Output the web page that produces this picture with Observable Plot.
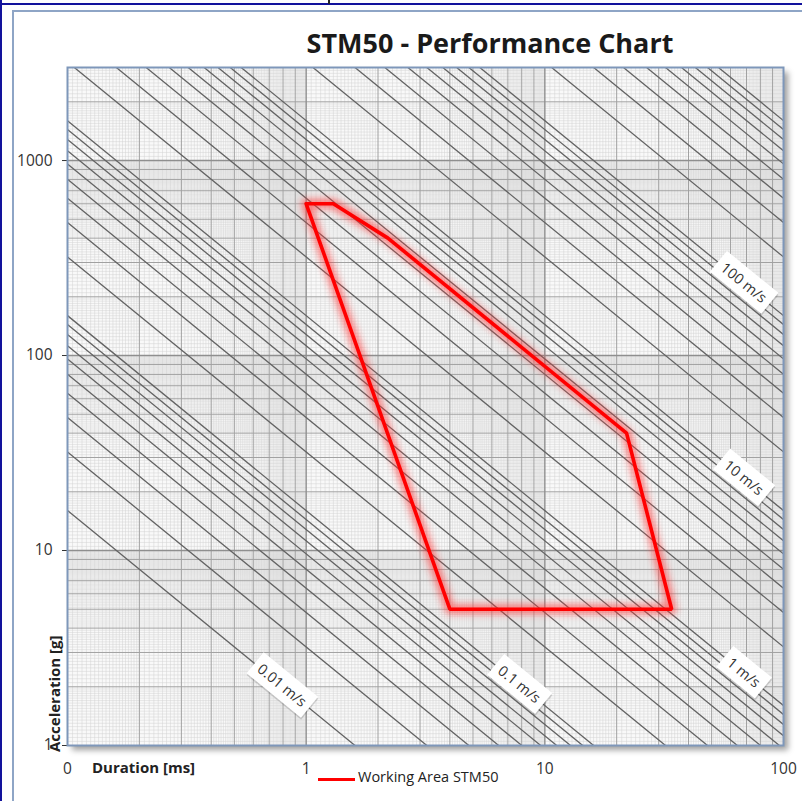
<!DOCTYPE html>
<html>
<head>
<meta charset="utf-8">
<script src="https://cdn.jsdelivr.net/npm/d3@7"></script>
<script src="https://cdn.jsdelivr.net/npm/@observablehq/plot@0.6"></script>
<style>
  html, body { margin: 0; padding: 0; background: #fff; }
  #wrap { position: relative; width: 802px; height: 801px; overflow: hidden; font-family: "Open Sans", sans-serif; color: #222; }
  .abs { position: absolute; }
  #navyTop { left: 0; top: 3px; width: 802px; height: 2px; background: #12129c; }
  #navyLeft { left: 0; top: 0; width: 2px; height: 801px; background: #12129c; }
  #tickTop { left: 328px; top: 0; width: 2px; height: 4px; background: #222; }
  #chartBorder { left: 12px; top: 10px; width: 820px; height: 820px; border-left: 2px solid #8ea5c6; border-top: 2px solid #8ea5c6; box-sizing: border-box; }
  #shadow { left: 67px; top: 67px; width: 716px; height: 678px; box-shadow: 5px 5px 6px rgba(0,0,0,0.38); background: #eee; }
  #chart { left: 0; top: 0; }
  #title { left: 290px; width: 400px; top: 29px; text-align: center; font-weight: 700; font-size: 27px; line-height: 27px; white-space: nowrap; color: #1a1a1a; }
  #xTitle { left: 92px; top: 760px; font-weight: 700; font-size: 15px; line-height: 15px; white-space: nowrap; color: #222; }
  #yTitle { left: 47px; top: 752px; font-weight: 700; font-size: 15px; line-height: 15px; white-space: nowrap; color: #222; transform-origin: 0 0; transform: rotate(-90deg); }
  #legendSwatch { left: 318px; top: 778px; width: 37px; height: 3px; background: #ff0000; }
  #legendText { left: 358px; top: 770px; font-size: 14.5px; line-height: 14px; white-space: nowrap; color: #222; }
</style>
</head>
<body>
<div id="wrap">
  <div id="chartBorder" class="abs"></div>
  <div id="navyTop" class="abs"></div>
  <div id="navyLeft" class="abs"></div>
  <div id="tickTop" class="abs"></div>
  <div id="shadow" class="abs"></div>
  <div id="chart" class="abs"></div>
  <div id="title" class="abs"></div>
  <div id="xTitle" class="abs"></div>
  <div id="yTitle" class="abs"></div>
  <div id="legendSwatch" class="abs"></div>
  <div id="legendText" class="abs"></div>
</div>
<script>
// ---------------- DATA ----------------
const chartTitle = "STM50 - Performance Chart";
const xTitle = "Duration [ms]";
const yTitle = "Acceleration [g]";
const legendLabel = "Working Area STM50";

const xDomain = [0.1, 100];
const yDomain = [1, 3000];
const xTickValues = [0.1, 1, 10, 100];
const xTickLabels = ["0", "1", "10", "100"];
const yTickValues = [1, 10, 100, 1000];
const yTickLabels = ["1", "10", "100", "1000"];

// constant-velocity-change lines (m/s)
const velocities = [
  0.01, 0.02, 0.03, 0.04, 0.05, 0.06, 0.07, 0.08, 0.09,
  0.1, 0.2, 0.3, 0.4, 0.5, 0.6, 0.7, 0.8, 0.9,
  1, 2, 3, 4, 5, 6, 7, 8, 9,
  10, 20, 30, 40, 50, 60, 70, 80, 90,
  100, 200, 300, 400, 500, 600, 700, 800, 900,
  1000
];

// labelled velocity lines and the duration (ms) where each label sits
const labelVelocities = [0.01, 0.1, 1, 10, 100];
const labelTexts = ["0.01 m/s", "0.1 m/s", "1 m/s", "10 m/s", "100 m/s"];
const labelDurations = [0.79, 7.8, 68, 68, 68];

// working area polygon (duration ms, acceleration g)
const areaDuration = [1, 1.3, 2.2, 22, 34, 4, 1];
const areaAccel = [600, 600, 400, 40, 5, 5, 600];

// ---------------- DERIVED ----------------
// half-sine pulse: dv = 2/pi * a * g * T  ->  a[g] = pi * dv / (2 * g * T[s])
const G = 9.80665;
const accelFor = (v, T) => Math.PI * v * 1000 / (2 * G * T);

const velRows = velocities.flatMap(v => xDomain.map(T => ({v, T, a: accelFor(v, T)})));
const labelRows = labelVelocities.map((v, i) => ({
  label: labelTexts[i], T: labelDurations[i], a: accelFor(v, labelDurations[i])
}));
const areaRows = areaDuration.map((T, i) => ({T, a: areaAccel[i]}));

// log-paper grid values
function decadeGrid(lo, hi) {
  const major = [], minor = [], decade = [];
  for (let d = lo; d < hi * 0.999; d *= 10) {
    decade.push(d);
    for (let k = 2; k <= 9; k++) major.push(d * k);
    for (let m = 105; m < 200; m += 5) minor.push(d * m / 100);
    for (let m = 21; m < 100; m++) if (m % 10 !== 0) minor.push(d * m / 10);
  }
  const inside = x => x > lo * 1.0001 && x < hi * 0.9999;
  return {major: major.filter(inside), minor: minor.filter(inside), decade: decade.filter(inside)};
}
const gx = decadeGrid(xDomain[0], xDomain[1]);
const gy = decadeGrid(yDomain[0], yDomain[1]);

// ---------------- LAYOUT ----------------
const W = 802, H = 801;
const mL = 67, mR = 19, mT = 67, mB = 56;
const xDec = (W - mL - mR) / Math.log10(xDomain[1] / xDomain[0]);
const yDec = (H - mT - mB) / Math.log10(yDomain[1] / yDomain[0]);
const angle = Math.atan2(yDec, xDec) * 180 / Math.PI;

const svg = Plot.plot({
  width: W, height: H,
  marginLeft: mL, marginRight: mR, marginTop: mT, marginBottom: mB,
  style: {fontFamily: '"Open Sans", sans-serif', fontSize: "15.5px", color: "#333", background: "transparent", overflow: "visible"},
  x: {type: "log", domain: xDomain, ticks: xTickValues, tickFormat: d => xTickLabels[xTickValues.indexOf(d)], tickSize: 0, tickPadding: 17, label: null},
  y: {type: "log", domain: yDomain, ticks: yTickValues, tickFormat: d => yTickLabels[yTickValues.indexOf(d)], tickSize: 5, tickPadding: 10, label: null},
  marks: [
    Plot.frame({fill: "#f9f9f9"}),
    Plot.ruleX(gx.minor, {stroke: "#d3d3d3", strokeWidth: 0.5}),
    Plot.ruleY(gy.minor, {stroke: "#d3d3d3", strokeWidth: 0.5}),
    Plot.ruleX(gx.major, {stroke: "#a0a0a0", strokeWidth: 1}),
    Plot.ruleY(gy.major, {stroke: "#a0a0a0", strokeWidth: 1}),
    Plot.ruleX(gx.decade, {stroke: "#8f8f8f", strokeWidth: 1.4}),
    Plot.ruleY(gy.decade, {stroke: "#8f8f8f", strokeWidth: 1.4}),
    Plot.line(velRows, {x: "T", y: "a", z: "v", stroke: "#636363", strokeWidth: 1.3, clip: true}),
    Plot.text(labelRows, {x: "T", y: "a", text: "label", rotate: angle, fill: "#333", fontSize: 14.5}),
    Plot.line(areaRows, {x: "T", y: "a", stroke: "#ff3030", strokeWidth: 10, strokeOpacity: 0.6, strokeLinejoin: "round"}),
    Plot.line(areaRows, {x: "T", y: "a", stroke: "#ff0000", strokeWidth: 3.6, strokeLinejoin: "miter"}),
    Plot.frame({stroke: "#7e97ba", strokeWidth: 2})
  ]
});
document.getElementById("chart").appendChild(svg);

// glow filter for the working-area outline
const NS = "http://www.w3.org/2000/svg";
const defs = document.createElementNS(NS, "defs");
const filter = document.createElementNS(NS, "filter");
filter.setAttribute("id", "glow");
filter.setAttribute("x", "-20%"); filter.setAttribute("y", "-20%");
filter.setAttribute("width", "140%"); filter.setAttribute("height", "140%");
const blur = document.createElementNS(NS, "feGaussianBlur");
blur.setAttribute("stdDeviation", "3.5");
filter.appendChild(blur);
defs.appendChild(filter);
svg.insertBefore(defs, svg.firstChild);
svg.querySelectorAll("g").forEach(g => {
  if ((g.getAttribute("stroke") || "").toLowerCase() === "#ff3030") g.setAttribute("filter", "url(#glow)");
});

// white label boxes behind the velocity labels
svg.querySelectorAll('g[aria-label="text"] text').forEach(t => {
  const b = t.getBBox();
  const tr = t.getAttribute("transform") || "";
  const padX = 6, padY = 4;
  const sh = document.createElementNS(NS, "rect");
  sh.setAttribute("x", b.x - padX + 1.5); sh.setAttribute("y", b.y - padY + 1.5);
  sh.setAttribute("width", b.width + 2 * padX); sh.setAttribute("height", b.height + 2 * padY);
  sh.setAttribute("fill", "#000"); sh.setAttribute("fill-opacity", "0.15");
  sh.setAttribute("transform", tr);
  const r = document.createElementNS(NS, "rect");
  r.setAttribute("x", b.x - padX); r.setAttribute("y", b.y - padY);
  r.setAttribute("width", b.width + 2 * padX); r.setAttribute("height", b.height + 2 * padY);
  r.setAttribute("fill", "#ffffff");
  r.setAttribute("transform", tr);
  t.parentNode.insertBefore(sh, t);
  t.parentNode.insertBefore(r, t);
});

document.getElementById("title").textContent = chartTitle;
document.getElementById("xTitle").textContent = xTitle;
document.getElementById("yTitle").textContent = yTitle;
document.getElementById("legendText").textContent = legendLabel;
</script>
</body>
</html>
